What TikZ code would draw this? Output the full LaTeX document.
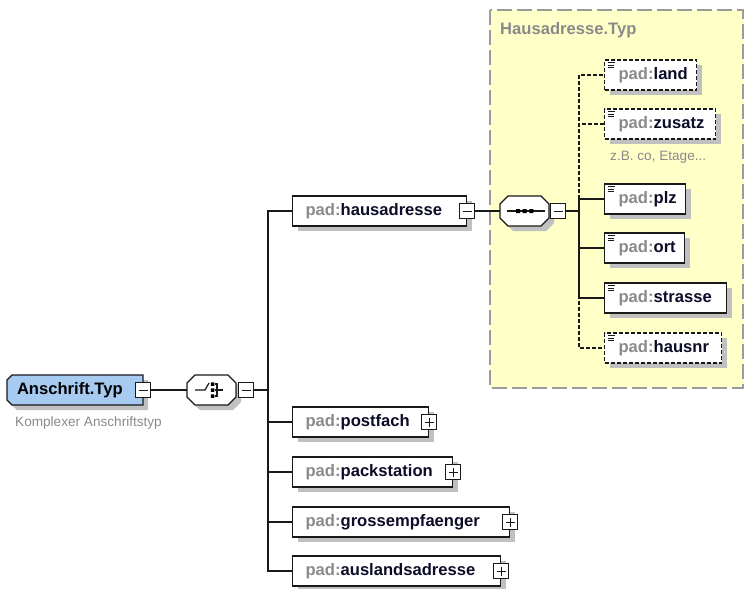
\documentclass[tikz,border=0pt]{standalone}
\usepackage{fontspec}
\setmainfont{Liberation Sans}
\usepackage{tikz}
\usetikzlibrary{positioning}
\usetikzlibrary{shadows}
\usepackage{xcolor}
\definecolor{xsdblue}{RGB}{166,202,240}
\definecolor{xsdyellow}{RGB}{255,255,200}
\definecolor{xsdgrey}{RGB}{138,138,138}
\definecolor{xsdshadow}{RGB}{192,192,192}
\definecolor{xsdborder}{RGB}{155,155,155}
\definecolor{xsdname}{RGB}{12,12,40}
\newcommand{\colortype}{xsdblue}
\newcommand{\colorgroup}{xsdyellow}
\newcommand{\colorprefix}{xsdgrey}
\newcommand{\sizeexpander}{15pt}
\newcommand{\fontlabel}{\fontsize{16.6}{20}\selectfont\bfseries}
\newcommand{\fontdoc}{\fontsize{13.6}{16}\selectfont}
\newcommand{\el}[1]{\mbox{\textcolor{\colorprefix}{pad:}\textcolor{xsdname}{#1}}}
\makeatletter
\pgfkeys{/pgf/cut left/.initial=8pt, /pgf/cut right/.initial=8pt}
\pgfdeclareshape{cut box}{
    \inheritsavedanchors[from=rectangle]
    \inheritanchorborder[from=rectangle]
    \inheritanchor[from=rectangle]{center}
    \inheritanchor[from=rectangle]{north}
    \inheritanchor[from=rectangle]{south}
    \inheritanchor[from=rectangle]{east}
    \inheritanchor[from=rectangle]{west}
    \inheritanchor[from=rectangle]{north east}
    \inheritanchor[from=rectangle]{north west}
    \inheritanchor[from=rectangle]{south east}
    \inheritanchor[from=rectangle]{south west}
    \inheritanchor[from=rectangle]{base}
    \inheritanchor[from=rectangle]{mid}
    \backgroundpath{
        \pgfmathsetlength\pgf@xc{\pgfkeysvalueof{/pgf/cut left}}
        \pgfmathsetlength\pgf@yc{\pgfkeysvalueof{/pgf/cut right}}
        \southwest \pgf@xa=\pgf@x \pgf@ya=\pgf@y
        \northeast \pgf@xb=\pgf@x \pgf@yb=\pgf@y
        \pgfpathmoveto{\pgfqpoint{\dimexpr\pgf@xa+\pgf@xc\relax}{\pgf@ya}}
        \pgfpathlineto{\pgfqpoint{\dimexpr\pgf@xb-\pgf@yc\relax}{\pgf@ya}}
        \pgfpathlineto{\pgfqpoint{\pgf@xb}{\dimexpr\pgf@ya+\pgf@yc\relax}}
        \pgfpathlineto{\pgfqpoint{\pgf@xb}{\dimexpr\pgf@yb-\pgf@yc\relax}}
        \pgfpathlineto{\pgfqpoint{\dimexpr\pgf@xb-\pgf@yc\relax}{\pgf@yb}}
        \pgfpathlineto{\pgfqpoint{\dimexpr\pgf@xa+\pgf@xc\relax}{\pgf@yb}}
        \pgfpathlineto{\pgfqpoint{\pgf@xa}{\dimexpr\pgf@yb-\pgf@xc\relax}}
        \pgfpathlineto{\pgfqpoint{\pgf@xa}{\dimexpr\pgf@ya+\pgf@xc\relax}}
        \pgfpathclose
    }
}
\makeatother
\tikzset{
    wire/.style={line width=1.2pt, draw=black!90},
    optwire/.style={wire, dash pattern=on 4pt off 2pt},
    castshadow/.style={drop shadow={shadow xshift=5pt, shadow yshift=-5pt, fill=xsdshadow, opacity=1}},
    common/.style={wire, anchor=west, fill=white, castshadow, minimum height=30pt, inner xsep=13pt, inner ysep=0pt, align=left, font=\fontlabel},
    element/.style={common},
    optional/.style={common, dash pattern=on 4pt off 2pt},
    simple/.style={inner xsep=14pt,
        path picture={
            \draw[solid, line width=1pt]
                ([shift={(3,2.5)}]path picture bounding box.north west) -- +(7,0)
                ([shift={(3,5)}]path picture bounding box.north west) -- +(6,0)
                ([shift={(3,7.5)}]path picture bounding box.north west) -- +(6,0);
        }
    },
    typenode/.style={common, cut box, /pgf/cut left=5pt, /pgf/cut right=0pt, outer sep=0pt,
        fill=\colortype, inner xsep=10pt, text width=116pt},
    expander/.style={wire, fill=white, minimum size=\sizeexpander, inner sep=0pt, line width=1pt},
    expandminus/.style={expander,
        path picture={
            \draw[line width=1pt] ([xshift=-4.5pt]path picture bounding box.center) -- ([xshift=4.5pt]path picture bounding box.center);
        }
    },
    expandplus/.style={expander,
        path picture={
            \draw[line width=1pt] ([xshift=-4.5pt]path picture bounding box.center) -- ([xshift=4.5pt]path picture bounding box.center)
                ([yshift=-4.5pt]path picture bounding box.center) -- ([yshift=4.5pt]path picture bounding box.center);
        }
    },
    compositor/.style={wire, fill=white, castshadow, cut box, /pgf/cut left=8pt, /pgf/cut right=8pt,
        outer sep=0pt, minimum width=49pt, minimum height=30pt, inner sep=0pt},
    choicenode/.style={compositor,
        path picture={
            \begin{scope}[shift={(path picture bounding box.center)}]
                \draw[line width=1.2pt] (-16.5,0) -- (-6.5,0) -- (-2.5,-7);
                \draw[line width=1.2pt] (3,-6) -| (5.5,6) -- (3,6) (3,0) -- (11.5,0);
                \fill[black] (-0.7,-7.7) rectangle +(3.5,3.5) (-0.7,-1.7) rectangle +(3.5,3.5) (-0.7,4.3) rectangle +(3.5,3.5);
            \end{scope}
        }
    },
    seqnode/.style={compositor,
        path picture={
            \begin{scope}[shift={(path picture bounding box.center)}]
                \draw[line width=1.2pt] (-18,0) -- (20,0);
                \fill[black] (-8.5,-2) rectangle +(4,4) (-1.8,-2) rectangle +(4,4) (4.8,-2) rectangle +(4,4);
            \end{scope}
        }
    },
    typebox/.style={draw=xsdborder, fill=\colorgroup, line width=1.3pt, dash pattern=on 15pt off 5pt},
    doc/.style={anchor=west, font=\fontdoc, text=xsdgrey, inner sep=0pt},
    title/.style={anchor=west, font=\fontlabel, text=xsdgrey, inner sep=0pt},
}
\begin{document}
\begin{tikzpicture}[x=1pt, y=-1pt]
    \useasboundingbox (0,0) rectangle (745,589);
    \draw[typebox] (490,10) rectangle (743,388);

    \path
        (7,390) node[typenode] (anschrift) {Anschrift.Typ}
        (15,423) node[doc] (anschrift-doc) {Komplexer Anschriftstyp}
        (211.5,390) node[choicenode] (choice) {}
        (292,211) node[element, text width=148pt] (hausadresse) {\el{hausadresse}}
        (292,422) node[element, text width=110pt] (postfach) {\el{postfach}}
        (292,472) node[element, text width=134pt] (packstation) {\el{packstation}}
        (292,522) node[element, text width=191pt] (grossempfaenger) {\el{grossempfaenger}}
        (292,571) node[element, text width=182pt] (auslandsadresse) {\el{auslandsadresse}};

    \path
        (500,30) node[title] (hausadresse-typ) {Hausadresse.Typ}
        (524.5,211) node[seqnode] (sequence) {}
        (604,75) node[optional, simple, text width=64pt] (land) {\el{land}}
        (604,124) node[optional, simple, text width=83pt] (zusatz) {\el{zusatz}}
        (610,157) node[doc] (zusatz-doc) {z.B. co, Etage...}
        (604,199) node[element, simple, text width=53pt] (plz) {\el{plz}}
        (604,248) node[element, simple, text width=52pt] (ort) {\el{ort}}
        (604,298) node[element, simple, text width=94pt] (strasse) {\el{strasse}}
        (604,348) node[optional, simple, text width=89pt] (hausnr) {\el{hausnr}};

    \node[expandminus] (anschrift-minus) at (anschrift.east) {};
    \node[expandminus, right=2pt of choice] (choice-minus) {};
    \node[expandminus] (hausadresse-minus) at (hausadresse.east) {};
    \node[expandminus, right=1pt of sequence] (sequence-minus) {};
    \node[expandplus] (postfach-plus) at (postfach.east) {};
    \node[expandplus] (packstation-plus) at (packstation.east) {};
    \node[expandplus] (grossempfaenger-plus) at (grossempfaenger.east) {};
    \node[expandplus] (auslandsadresse-plus) at (auslandsadresse.east) {};

    \coordinate[right=14pt of choice-minus] (choice-bus);
    \coordinate[right=13pt of sequence-minus] (sequence-bus);

    \draw[wire] (anschrift-minus) -- (choice);
    \draw[wire] (choice-minus) -- (choice-bus);
    \draw[wire] (choice-bus) |- (hausadresse) (choice-bus) |- (postfach) (choice-bus) |- (packstation)
        (choice-bus) |- (grossempfaenger) (choice-bus) |- (auslandsadresse);

    \draw[wire] (hausadresse-minus) -- (sequence);
    \draw[wire] (sequence-minus) -- (sequence-bus);
    \draw[optwire] (sequence-bus) |- (land) (sequence-bus) |- (zusatz) (sequence-bus) |- (hausnr);
    \draw[wire] (sequence-bus) |- (plz) (sequence-bus) |- (ort) (sequence-bus) |- (strasse);
\end{tikzpicture}
\end{document}
